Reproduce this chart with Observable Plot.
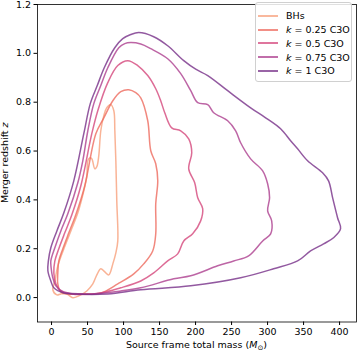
<!DOCTYPE html>
<html><head><meta charset="utf-8">
<script src="https://cdn.jsdelivr.net/npm/d3@7"></script>
<script src="https://cdn.jsdelivr.net/npm/@observablehq/plot@0.6"></script>
<style>
body{margin:0;background:#fff;}
#wrap{position:relative;width:357px;height:351px;font-family:"DejaVu Sans",sans-serif;}
#legend{position:absolute;left:255px;top:2px;width:97px;height:80px;box-sizing:border-box;border:1px solid #d0d0d0;border-radius:3px;background:rgba(255,255,255,0.85);padding-top:6px;}
.row{display:flex;align-items:center;height:13.75px;font-size:9.5px;color:#000;white-space:nowrap;}
.row svg{margin-left:2px;margin-right:8px;}
</style></head><body><div id="wrap"></div>
<script>
const seriesNames = ["BHs", "k = 0.25 C3O", "k = 0.5 C3O", "k = 0.75 C3O", "k = 1 C3O"];
const seriesColors = ["#f7a07c", "#ee6a5e", "#d4477c", "#ad3e8e", "#773088"];
const xTicks = [0, 50, 100, 150, 200, 250, 300, 350, 400];
const yTicks = [0, 0.2, 0.4, 0.6, 0.8, 1.0, 1.2];

const bhsMass = [82.3, 86.5, 87.9, 89.3, 90.6, 92, 89.3, 85.1, 79.5, 74, 68.4, 62.9, 57.3, 49, 37.9, 29.6, 21.2, 12.9, 7.4, 1.8, 4.6, 8.7, 17.1, 26.8, 36.5, 44.8, 49, 50.4, 53.1, 55.9, 60.1, 62.9, 65.6, 68.4, 72.6, 76.7];
const bhsZ = [0.790, 0.765, 0.683, 0.560, 0.396, 0.232, 0.183, 0.138, 0.093, 0.105, 0.118, 0.093, 0.056, 0.027, 0.007, -0.001, 0.015, 0.015, 0.011, 0.032, 0.068, 0.130, 0.200, 0.273, 0.347, 0.437, 0.498, 0.560, 0.572, 0.568, 0.527, 0.536, 0.581, 0.683, 0.745, 0.777];

const k025Mass = [44.8, 22.6, 12.9, 8.7, 8.7, 10.1, 15.7, 24, 33.7, 46.2, 61.5, 72.6, 85.1, 96.2, 107.2, 117, 123.9, 133.6, 137.8, 144.7, 147.5, 144.7, 144.7, 140.5, 128, 114.2, 92, 68.4];
const k025Z = [0.015, 0.015, 0.023, 0.056, 0.101, 0.150, 0.200, 0.265, 0.339, 0.458, 0.671, 0.736, 0.806, 0.843, 0.851, 0.839, 0.818, 0.724, 0.601, 0.548, 0.478, 0.384, 0.261, 0.191, 0.138, 0.097, 0.056, 0.019];

const k05Mass = [26.8, 12.9, 6, 3.2, 4.6, 10.1, 18.4, 28.2, 40.7, 55.9, 64.2, 78.1, 92, 105.9, 119.7, 133.6, 144.7, 151.6, 157.2, 166.9, 179.4, 190.5, 194.7, 190.5, 198.8, 203, 209.9, 207.1, 196, 183.6, 175.2, 161.3, 141.9, 123.9, 96.2, 68.4];
const k05Z = [0.015, 0.027, 0.056, 0.101, 0.150, 0.200, 0.265, 0.339, 0.458, 0.671, 0.765, 0.880, 0.950, 0.970, 0.950, 0.909, 0.855, 0.806, 0.757, 0.695, 0.683, 0.650, 0.593, 0.527, 0.470, 0.409, 0.364, 0.314, 0.261, 0.232, 0.179, 0.150, 0.101, 0.068, 0.040, 0.019];

const k075Mass = [17.1, 6, 1.4, -0.5, -1, 4.6, 12.9, 22.6, 36.5, 43.4, 50.4, 58.7, 68.4, 78.1, 93.4, 101.7, 110, 123.9, 137.8, 161.3, 179.4, 193.3, 203, 216.9, 225.2, 244.6, 255.7, 262.6, 276.5, 293.2, 300.1, 302.8, 300.1, 305.7, 304.3, 293.2, 273.7, 252.9, 230.7, 193.3, 169.7, 123.9, 96.2, 54.5];
const k075Z = [0.023, 0.048, 0.085, 0.120, 0.150, 0.204, 0.273, 0.343, 0.470, 0.560, 0.683, 0.794, 0.868, 0.941, 1.023, 1.040, 1.044, 1.038, 1.019, 0.978, 0.917, 0.847, 0.798, 0.790, 0.757, 0.724, 0.683, 0.634, 0.568, 0.519, 0.466, 0.409, 0.355, 0.314, 0.261, 0.232, 0.171, 0.150, 0.130, 0.089, 0.077, 0.040, 0.027, 0.015];

const k1Mass = [30.9, 17.1, 3.2, -1, -5.1, -4.4, -1, 7.4, 17.1, 30.9, 44.8, 53.8, 63.5, 73.2, 87.8, 98.9, 110, 121.1, 141.9, 161.3, 183.6, 200.2, 216.9, 244.6, 276.5, 297.3, 318.1, 332, 341.7, 355.6, 376.4, 384.7, 390.3, 397.2, 401.4, 391.6, 377.8, 359.7, 341.7, 308.4, 262.6, 193.3, 123.9, 78.1];
const k1Z = [0.015, 0.019, 0.040, 0.068, 0.110, 0.150, 0.204, 0.273, 0.347, 0.478, 0.671, 0.794, 0.868, 0.941, 1.023, 1.060, 1.077, 1.085, 1.068, 1.031, 0.970, 0.935, 0.909, 0.847, 0.777, 0.736, 0.691, 0.642, 0.609, 0.560, 0.511, 0.478, 0.409, 0.327, 0.282, 0.245, 0.220, 0.191, 0.150, 0.118, 0.081, 0.048, 0.032, 0.015];

const masses = [bhsMass, k025Mass, k05Mass, k075Mass, k1Mass];
const zs = [bhsZ, k025Z, k05Z, k075Z, k1Z];
const rows = [];
seriesNames.forEach((s, i) => masses[i].forEach((m, j) => rows.push({series: s, mass: m, z: zs[i][j]})));

const W = 357, H = 351, ML = 37, MR = 1, MT = 4, MB = 29.5;
const chart = Plot.plot({
  width: W, height: H,
  marginLeft: ML, marginRight: MR, marginTop: MT, marginBottom: MB,
  style: {fontFamily: "DejaVu Sans", fontSize: "9.5px", color: "#000", background: "#fff"},
  x: {domain: [-19.5, 423.5]},
  y: {domain: [-0.1, 1.2]},
  color: {domain: seriesNames, range: seriesColors},
  marks: [
    Plot.line(rows, {x: "mass", y: "z", z: "series", stroke: "series", curve: "catmull-rom-closed", strokeWidth: 1.5, strokeOpacity: 0.8}),
    Plot.frame({stroke: "#000", strokeWidth: 0.8}),
    Plot.axisX({ticks: xTicks, tickSize: 3.5, tickPadding: 2.5, label: null, tickFormat: d => String(d)}),
    Plot.axisY({ticks: yTicks, tickSize: 3.5, tickPadding: 3, label: null, tickFormat: d3.format(".1f")})
  ]
});
document.getElementById("wrap").appendChild(chart);

const svg = d3.select(chart);
const xt = svg.append("text").attr("x", (ML + W - MR) / 2).attr("y", 348)
  .attr("text-anchor", "middle").attr("font-size", "9.5px").attr("fill", "#000");
xt.append("tspan").text("Source frame total mass (");
xt.append("tspan").attr("font-style", "italic").text("M");
xt.append("tspan").attr("font-size", "7px").attr("dy", "2").text("⊙");
xt.append("tspan").attr("dy", "-2").text(")");

const yt = svg.append("text").attr("transform", `translate(8,${(MT + H - MB) / 2}) rotate(-90)`)
  .attr("text-anchor", "middle").attr("font-size", "9.5px").attr("fill", "#000");
yt.append("tspan").text("Merger redshift ");
yt.append("tspan").attr("font-style", "italic").text("z");

const legend = d3.select("#wrap").append("div").attr("id", "legend");
seriesNames.forEach((s, i) => {
  const row = legend.append("div").attr("class", "row");
  const sw = row.append("svg").attr("width", 20).attr("height", 4);
  sw.append("line").attr("x1", 0).attr("x2", 20).attr("y1", 2).attr("y2", 2)
    .attr("stroke", seriesColors[i]).attr("stroke-width", 1.5);
  const t = row.append("span");
  if (s.startsWith("k = ")) {
    t.append("i").text("k");
    t.append("span").text(s.slice(1));
  } else {
    t.text(s);
  }
});
</script></body></html>
